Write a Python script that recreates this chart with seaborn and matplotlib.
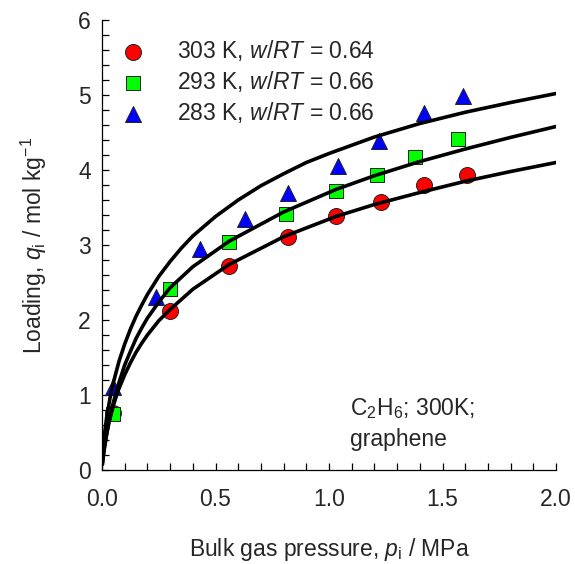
import matplotlib
matplotlib.use("Agg")
import matplotlib.pyplot as plt
from matplotlib.ticker import MultipleLocator
import seaborn as sns
import pandas as pd

# Measured loadings of C2H6 (bulk pressure in MPa, loading in mol/kg)
p_303 = [0.048, 0.30, 0.56, 0.82, 1.03, 1.23, 1.42, 1.61]
q_303 = [0.76, 2.12, 2.72, 3.11, 3.39, 3.58, 3.80, 3.94]

p_293 = [0.048, 0.30, 0.56, 0.81, 1.03, 1.21, 1.38, 1.57]
q_293 = [0.75, 2.41, 3.04, 3.42, 3.72, 3.93, 4.17, 4.41]

p_283 = [0.048, 0.24, 0.43, 0.63, 0.82, 1.04, 1.22, 1.42, 1.59]
q_283 = [1.11, 2.31, 2.95, 3.35, 3.69, 4.05, 4.39, 4.76, 4.99]

# Fitted isotherm curves
fit_p_303 = [0.002, 0.005, 0.01, 0.02, 0.03, 0.05, 0.07, 0.1, 0.125, 0.15, 0.175,
             0.2, 0.25, 0.3, 0.4, 0.56, 0.8, 1.03, 1.2, 1.4, 1.6, 1.8, 2.0]
fit_q_303 = [0.10, 0.19, 0.30, 0.48, 0.63, 0.86, 1.05, 1.27, 1.428, 1.57, 1.69,
             1.80, 1.99, 2.14, 2.41, 2.74, 3.11, 3.38, 3.54, 3.70, 3.85, 3.98, 4.10]

fit_p_293 = [0.002, 0.005, 0.01, 0.02, 0.03, 0.05, 0.07, 0.1, 0.125, 0.15, 0.175,
             0.2, 0.25, 0.3, 0.4, 0.56, 0.8, 1.03, 1.2, 1.4, 1.6, 1.8, 2.0]
fit_q_293 = [0.073, 0.157, 0.274, 0.464, 0.63, 0.90, 1.12, 1.40, 1.58, 1.754, 1.894,
             2.025, 2.238, 2.43, 2.71, 3.05, 3.44, 3.74, 3.924, 4.113, 4.28, 4.435, 4.58]

fit_p_283 = [0.002, 0.005, 0.01, 0.02, 0.035, 0.05, 0.075, 0.1, 0.125, 0.15, 0.175,
             0.2, 0.25, 0.3, 0.35, 0.4, 0.5, 0.6, 0.7, 0.8, 0.9, 1.0, 1.2, 1.4,
             1.6, 1.8, 2.0]
fit_q_283 = [0.13, 0.28, 0.456, 0.69, 0.955, 1.166, 1.45, 1.68, 1.877, 2.05, 2.20,
             2.34, 2.58, 2.78, 2.96, 3.12, 3.38, 3.60, 3.79, 3.95, 4.10, 4.22, 4.44,
             4.62, 4.77, 4.90, 5.02]

series_labels = [r"303 K, $w/RT$ = 0.64",
                 r"293 K, $w/RT$ = 0.66",
                 r"283 K, $w/RT$ = 0.66"]
x_ticks = [0.0, 0.5, 1.0, 1.5, 2.0]
y_ticks = [0, 1, 2, 3, 4, 5, 6]

FS = 16.5

sns.set_style("ticks")
plt.rcParams["font.family"] = ["Liberation Sans", "DejaVu Sans"]
plt.rcParams["mathtext.fontset"] = "custom"
plt.rcParams["mathtext.rm"] = "Liberation Sans"
plt.rcParams["mathtext.it"] = "Liberation Sans:italic"
plt.rcParams["mathtext.bf"] = "Liberation Sans:bold"

fig = plt.figure(figsize=(5.75, 5.64), dpi=100)
ax = fig.add_axes([0.1774, 0.1667, 0.7896, 0.7978])

pts = pd.DataFrame({
    "p": p_303 + p_293 + p_283,
    "q": q_303 + q_293 + q_283,
    "T": [series_labels[0]] * len(p_303) + [series_labels[1]] * len(p_293)
         + [series_labels[2]] * len(p_283),
})

styles = [("o", "#FF0000", 11.5), ("s", "#00FF00", 10.0), ("^", "#0000FF", 11.5)]
for lab, (mk, col, ms) in zip(series_labels, styles):
    sub = pts[pts["T"] == lab]
    sns.scatterplot(data=sub, x="p", y="q", marker=mk, color=col, s=ms ** 2,
                    edgecolor="#222222", linewidth=0.7, ax=ax, label=lab,
                    zorder=3)

for fp, fq in [(fit_p_303, fit_q_303), (fit_p_293, fit_q_293), (fit_p_283, fit_q_283)]:
    sns.lineplot(x=fp, y=fq, sort=False, estimator=None, color="black",
                 linewidth=2.6, ax=ax, zorder=4)

ax.set_xlim(0, 2.0)
ax.set_ylim(0, 6)
ax.set_xticks(x_ticks)
ax.set_xticklabels([f"{v:.1f}" for v in x_ticks])
ax.set_yticks(y_ticks)
ax.set_yticklabels([str(v) for v in y_ticks])
ax.xaxis.set_minor_locator(MultipleLocator(0.1))
ax.yaxis.set_minor_locator(MultipleLocator(0.2))
ax.tick_params(which="both", direction="in", length=5, width=0.9, color="black")
ax.tick_params(axis="x", which="major", pad=13, labelsize=FS)
ax.tick_params(axis="y", which="major", pad=8, labelsize=FS)

for side in ["top", "right"]:
    ax.spines[side].set_visible(False)
for side in ["left", "bottom"]:
    ax.spines[side].set_linewidth(0.9)
    ax.spines[side].set_color("black")

ax.set_xlabel(r"Bulk gas pressure, $p_\mathrm{i}$ / MPa", fontsize=FS, labelpad=18)
ax.set_ylabel(r"Loading, $q_\mathrm{i}$ / mol kg$^{-1}$", fontsize=FS, labelpad=21)

ax.text(1.093, 0.73, r"C$_2$H$_6$; 300K;", fontsize=FS, va="baseline", ha="left")
ax.text(1.093, 0.32, "graphene", fontsize=FS, va="baseline", ha="left")

leg = ax.legend(loc="upper left", bbox_to_anchor=(-0.013, 0.99), frameon=False,
                fontsize=FS, handletextpad=0.95, labelspacing=0.25,
                borderaxespad=0.2)

fig.savefig("out.png", dpi=100)
